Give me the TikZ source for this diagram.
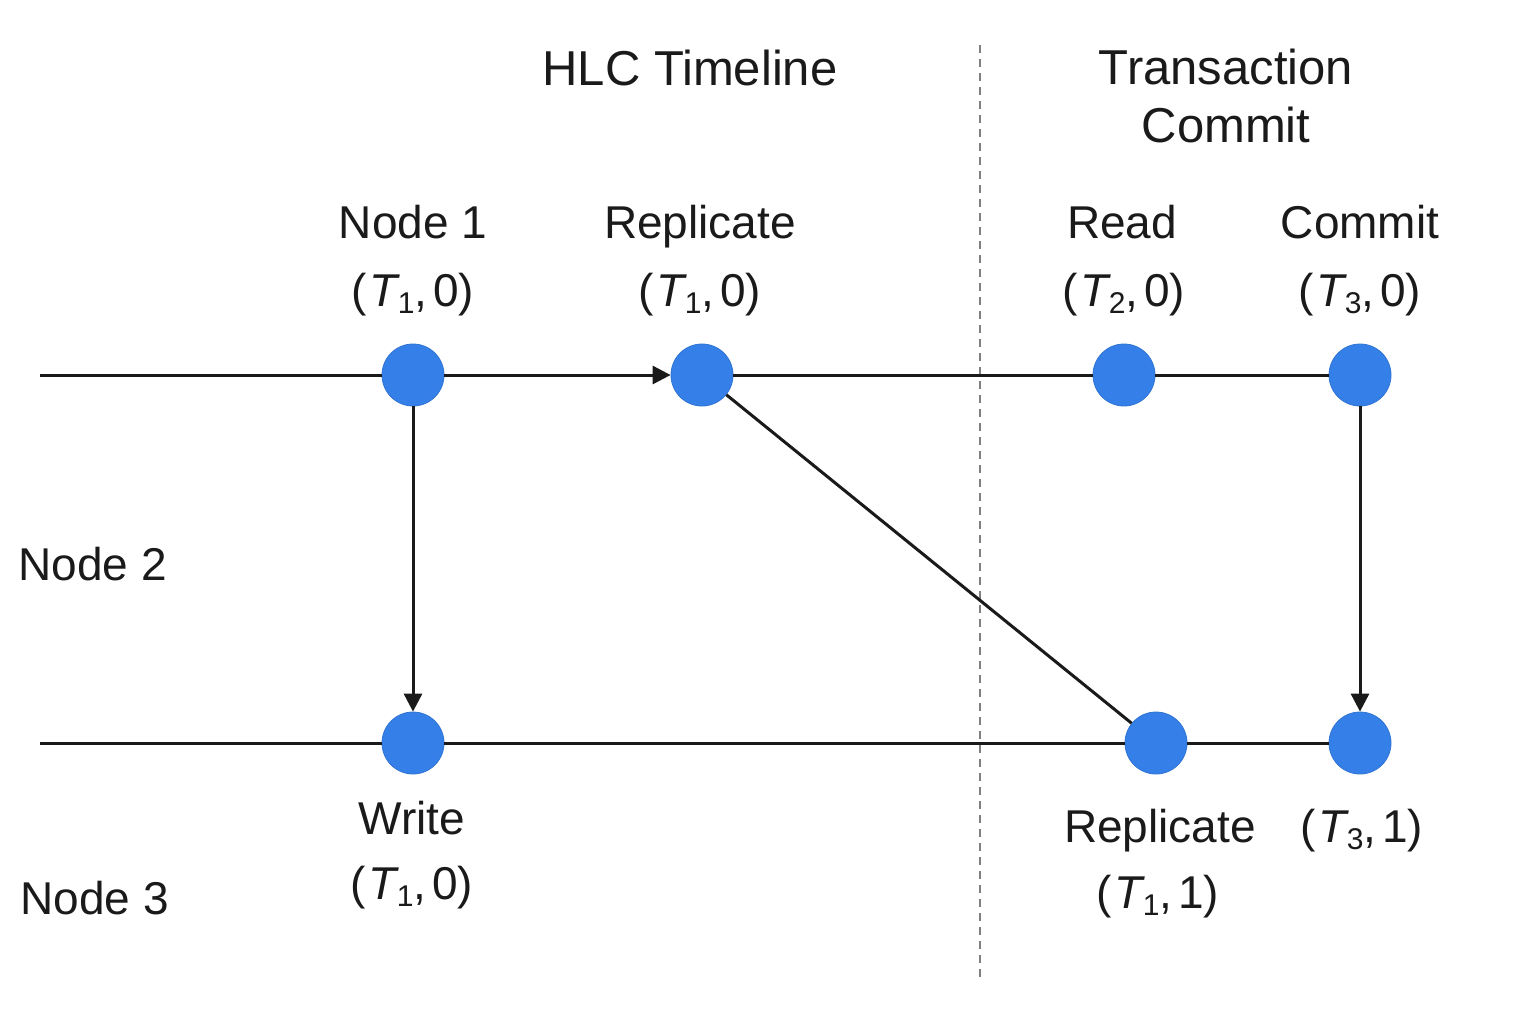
\documentclass[tikz,border=0pt]{standalone}
\usepackage{fontspec}
\setmainfont{Liberation Sans}
\usetikzlibrary{arrows.meta}
\definecolor{dotblue}{HTML}{3580E8}
\definecolor{lineblk}{HTML}{1A1A1A}
\newcommand{\hlc}[2]{(\kern1pt\textit{T}\kern-1pt\raisebox{-0.3ex}{\fontsize{15}{15}\selectfont #1},\kern3pt#2)}
\tikzset{
  ev/.style={circle, fill=dotblue, draw=dotblue!90!black, line width=0.4pt, minimum size=31pt, inner sep=0pt},
  lbl/.style={font=\fontsize{23}{28}\selectfont, text=lineblk, inner sep=0pt, text height=17pt, text depth=5pt},
  ttl/.style={font=\fontsize{24.5}{29}\selectfont, text=lineblk, inner sep=0pt},
  tl/.style={draw=lineblk, line width=1.5pt},
  arr/.style={draw=lineblk, line width=1.5pt, -{Triangle[length=9pt,width=9pt]}},
  sep/.style={draw=gray, line width=0.9pt, dash pattern=on 4pt off 3pt}
}
\begin{document}
\begin{tikzpicture}[x=0.5pt,y=-0.5pt]
\useasboundingbox (0,0) rectangle (1536,1024);
% separator
\coordinate (s1) at (980,45);
\coordinate (s2) at (980,978);
\draw[sep] (s1) -- (s2);
% timeline ends
\coordinate (l1) at (40,375);
\coordinate (l2) at (40,743);
% events
\node[ev] (n1) at (413,375) {};
\node[ev] (rep) at (702,375) {};
\node[ev] (rd) at (1124,375) {};
\node[ev] (cm) at (1360,375) {};
\node[ev] (wr) at (413,743) {};
\node[ev] (rep2) at (1156,743) {};
\node[ev] (t31) at (1360,743) {};
% lines
\draw[tl] (l1) -- (n1);
\draw[arr] (n1) -- (rep);
\draw[tl] (rep) -- (rd);
\draw[tl] (rd) -- (cm);
\draw[tl] (l2) -- (wr);
\draw[tl] (wr) -- (rep2);
\draw[tl] (rep2) -- (t31);
\draw[arr] (n1) -- (wr);
\draw[arr] (cm) -- (t31);
\draw[tl] (rep) -- (rep2);
% labels
\node[ttl] (h1) at (690,68) {HLC Timeline};
\node[ttl, align=center] (h2) at (1226,96) {Transaction\\[0pt]Commit};
\node[lbl] (a1) at (413,226) {Node 1};
\node[lbl] (a2) at (413,294) {\hlc{1}{0}};
\node[lbl] (b1) at (700,226) {Replicate};
\node[lbl] (b2) at (700,294) {\hlc{1}{0}};
\node[lbl] (c1) at (1122,226) {Read};
\node[lbl] (c2) at (1124,294) {\hlc{2}{0}};
\node[lbl] (d1) at (1360,226) {Commit};
\node[lbl] (d2) at (1360,294) {\hlc{3}{0}};
\node[lbl, anchor=west] (nd2) at (18,568) {Node 2};
\node[lbl, anchor=west] (nd3) at (20,902) {Node 3};
\node[lbl] (e1) at (412,822) {Write};
\node[lbl] (e2) at (412,887) {\hlc{1}{0}};
\node[lbl] (f1) at (1160,830) {Replicate};
\node[lbl] (f2) at (1158,896) {\hlc{1}{1}};
\node[lbl] (g1) at (1362,830) {\hlc{3}{1}};
\end{tikzpicture}
\end{document}
